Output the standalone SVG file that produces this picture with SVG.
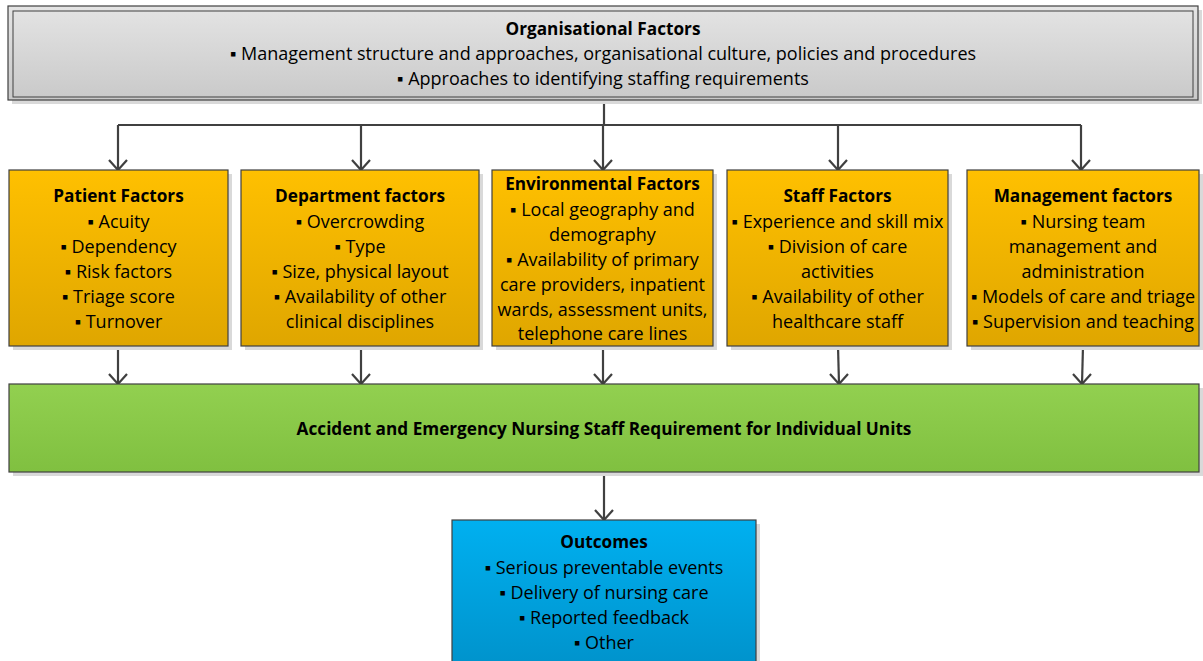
<svg xmlns="http://www.w3.org/2000/svg" width="1203" height="661" viewBox="0 0 1203 661">
<style>
text{font-family:"Open Sans","Liberation Sans",Arial,sans-serif;font-size:18px;fill:#000;text-anchor:middle}
.b{font-weight:bold;font-size:17.2px}
.box{stroke:#404040;stroke-width:1.2}
.sh{fill:#d9d9d9}
.con{fill:none;stroke:#404040;stroke-width:2.2}
</style>
<defs>
<linearGradient id="gGray" x1="0" y1="0" x2="0" y2="1"><stop offset="0" stop-color="#e4e4e4"/><stop offset="1" stop-color="#c9c9c9"/></linearGradient>
<linearGradient id="gYel" x1="0" y1="0" x2="0" y2="1"><stop offset="0" stop-color="#ffc000"/><stop offset="1" stop-color="#dfa600"/></linearGradient>
<linearGradient id="gGrn" x1="0" y1="0" x2="0" y2="1"><stop offset="0" stop-color="#92d050"/><stop offset="1" stop-color="#80c040"/></linearGradient>
<linearGradient id="gBlu" x1="0" y1="0" x2="0" y2="1"><stop offset="0" stop-color="#00b0f0"/><stop offset="1" stop-color="#0093cc"/></linearGradient>
<marker id="arr" viewBox="0 0 20 12" refX="10" refY="11" markerWidth="20" markerHeight="12" markerUnits="userSpaceOnUse" orient="0">
<polyline points="1,1 10,11 19,1" fill="none" stroke="#404040" stroke-width="2.2"/>
</marker>
</defs>

<g id="connectors">
<polyline class="con" points="604,100 604,125"/>
<polyline class="con" points="118,125 1081,125"/>
<line class="con" x1="118" y1="125" x2="118" y2="170" marker-end="url(#arr)"/>
<line class="con" x1="361" y1="125" x2="361" y2="170" marker-end="url(#arr)"/>
<line class="con" x1="603" y1="125" x2="603" y2="170" marker-end="url(#arr)"/>
<line class="con" x1="838" y1="125" x2="838" y2="170" marker-end="url(#arr)"/>
<line class="con" x1="1081" y1="125" x2="1081" y2="170" marker-end="url(#arr)"/>
<line class="con" x1="118" y1="346" x2="118" y2="384" marker-end="url(#arr)"/>
<line class="con" x1="361" y1="346" x2="361" y2="384" marker-end="url(#arr)"/>
<line class="con" x1="603" y1="346" x2="603" y2="384" marker-end="url(#arr)"/>
<line class="con" x1="838" y1="346" x2="839" y2="384" marker-end="url(#arr)"/>
<line class="con" x1="1083" y1="346" x2="1082" y2="384" marker-end="url(#arr)"/>
<line class="con" x1="604" y1="472" x2="604" y2="520" marker-end="url(#arr)"/>
</g>

<g id="organisational">
<rect class="sh" x="12" y="10" width="1190" height="94"/>
<rect class="box" x="8" y="6" width="1190" height="94" fill="url(#gGray)"/>
<rect x="13" y="11" width="1180" height="86" fill="none" stroke="#404040" stroke-width="1"/>
<text class="b" x="603" y="35">Organisational Factors</text>
<text x="603" y="60">▪ Management structure and approaches, organisational culture, policies and procedures</text>
<text x="603" y="85">▪ Approaches to identifying staffing requirements</text>
</g>

<g id="patient">
<rect class="sh" x="13" y="174" width="219" height="176"/>
<rect class="box" x="9" y="170" width="219" height="176" fill="url(#gYel)"/>
<text class="b" x="118.5" y="202">Patient Factors</text>
<text x="118.5" y="228">▪ Acuity</text>
<text x="118.5" y="253">▪ Dependency</text>
<text x="118.5" y="278">▪ Risk factors</text>
<text x="118.5" y="303">▪ Triage score</text>
<text x="118.5" y="328">▪ Turnover</text>
</g>

<g id="department">
<rect class="sh" x="245" y="174" width="238" height="176"/>
<rect class="box" x="241" y="170" width="238" height="176" fill="url(#gYel)"/>
<text class="b" x="360" y="202">Department factors</text>
<text x="360" y="228">▪ Overcrowding</text>
<text x="360" y="253">▪ Type</text>
<text x="360" y="278">▪ Size, physical layout</text>
<text x="360" y="303">▪ Availability of other</text>
<text x="360" y="328">clinical disciplines</text>
</g>

<g id="environmental">
<rect class="sh" x="496" y="174" width="221" height="176"/>
<rect class="box" x="492" y="170" width="221" height="176" fill="url(#gYel)"/>
<text class="b" x="602.5" y="190">Environmental Factors</text>
<text x="602.5" y="216">▪ Local geography and</text>
<text x="602.5" y="241">demography</text>
<text x="602.5" y="266">▪ Availability of primary</text>
<text x="602.5" y="291">care providers, inpatient</text>
<text x="602.5" y="316">wards, assessment units,</text>
<text x="602.5" y="340">telephone care lines</text>
</g>

<g id="staff">
<rect class="sh" x="731" y="174" width="221" height="176"/>
<rect class="box" x="727" y="170" width="221" height="176" fill="url(#gYel)"/>
<text class="b" x="837.5" y="202">Staff Factors</text>
<text x="837.5" y="228">▪ Experience and skill mix</text>
<text x="837.5" y="253">▪ Division of care</text>
<text x="837.5" y="278">activities</text>
<text x="837.5" y="303">▪ Availability of other</text>
<text x="837.5" y="328">healthcare staff</text>
</g>

<g id="management">
<rect class="sh" x="971" y="174" width="232" height="176"/>
<rect class="box" x="967" y="170" width="232" height="176" fill="url(#gYel)"/>
<text class="b" x="1083" y="202">Management factors</text>
<text x="1083" y="228">▪ Nursing team</text>
<text x="1083" y="253">management and</text>
<text x="1083" y="278">administration</text>
<text x="1083" y="303">▪ Models of care and triage</text>
<text x="1083" y="328">▪ Supervision and teaching</text>
</g>

<g id="requirement">
<rect class="sh" x="13" y="388" width="1190" height="88"/>
<rect class="box" x="9" y="384" width="1190" height="88" fill="url(#gGrn)"/>
<text class="b" x="604" y="435">Accident and Emergency Nursing Staff Requirement for Individual Units</text>
</g>

<g id="outcomes">
<rect class="sh" x="456" y="524" width="304" height="145"/>
<rect class="box" x="452" y="520" width="304" height="145" fill="url(#gBlu)"/>
<text class="b" x="604" y="548">Outcomes</text>
<text x="604" y="574">▪ Serious preventable events</text>
<text x="604" y="599">▪ Delivery of nursing care</text>
<text x="604" y="624">▪ Reported feedback</text>
<text x="604" y="649">▪ Other</text>
</g>
</svg>
